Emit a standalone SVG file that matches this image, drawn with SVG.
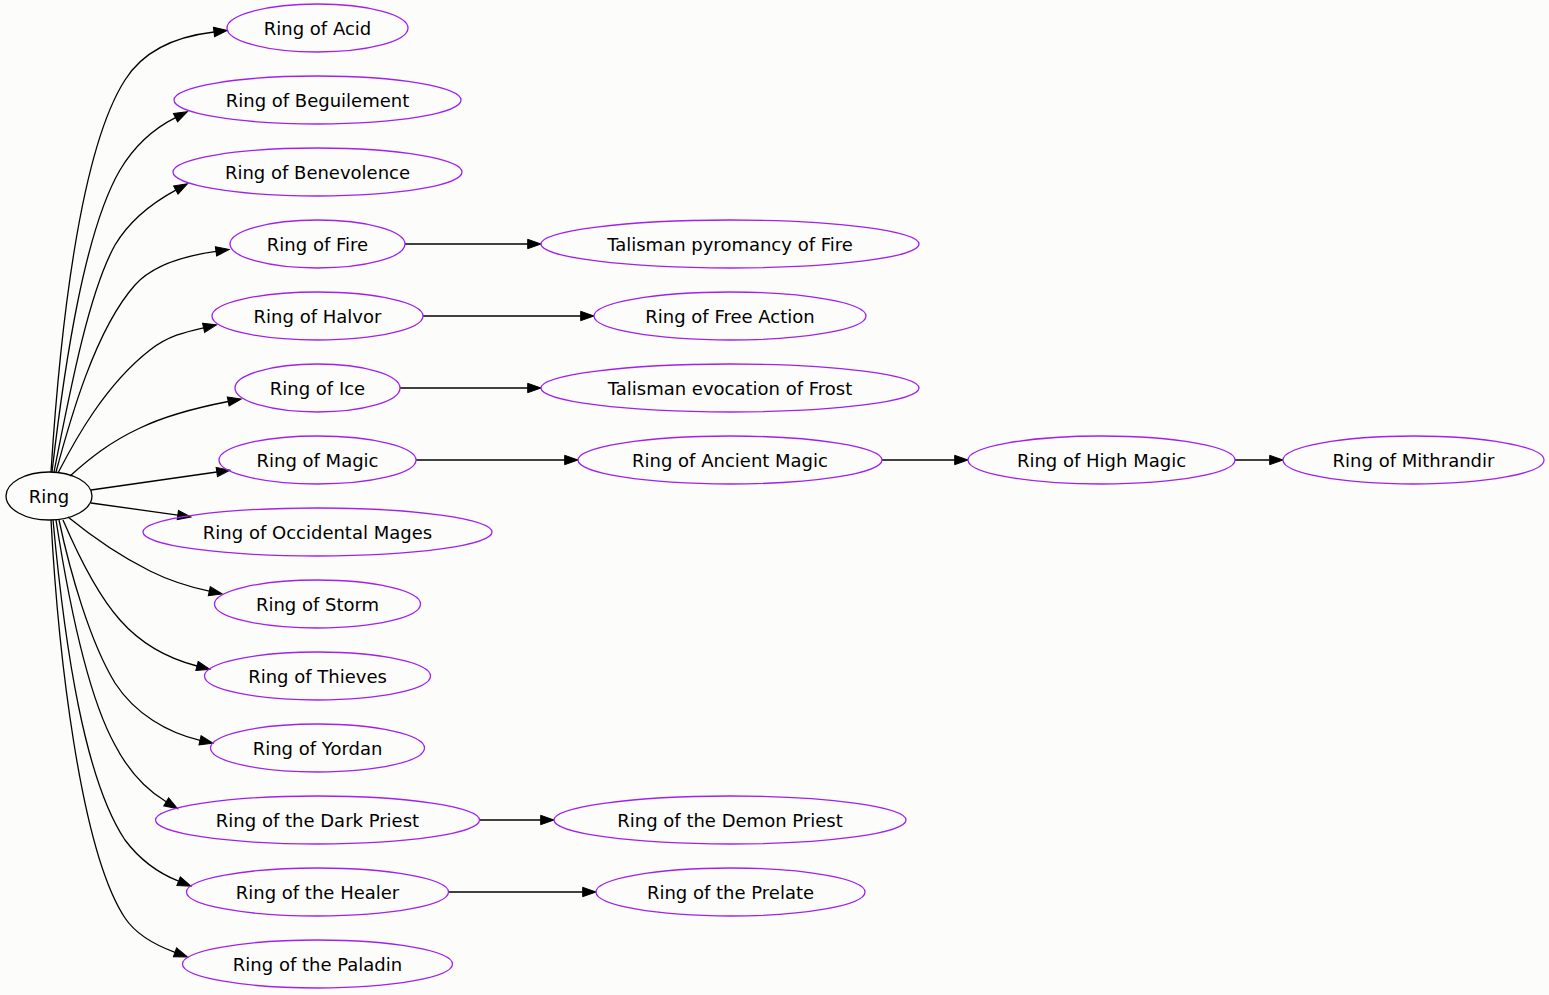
<svg xmlns="http://www.w3.org/2000/svg" width="1549" height="995" viewBox="0 0 1549 995">
<style>
.n ellipse{fill:none;stroke:#a020f0;stroke-width:1.3}
.r ellipse{fill:none;stroke:#000;stroke-width:1.3}
text{font-family:"DejaVu Sans",sans-serif;font-size:18px;fill:#000;text-anchor:middle}
#edges path{fill:none;stroke:#000;stroke-width:1.3;marker-end:url(#ah)}
</style>
<defs>
<marker id="ah" markerUnits="userSpaceOnUse" markerWidth="16" markerHeight="12" refX="0" refY="4.67" orient="auto" overflow="visible">
<path d="M0,0 L13.3,4.67 L0,9.33 z" fill="#000" stroke="#000" stroke-width="1"/>
</marker>
</defs>
<rect width="1549" height="995" fill="#fcfdfb"/>
<g id="edges">
<path d="M51,472 C60,330 80,150 125,80 C145,48 180,36 214,32"/>
<path d="M52,472 C65,360 85,230 120,170 C135,145 155,128 175.5,117.7"/>
<path d="M54,472 C72,380 90,290 115,245 C130,220 152,203 175.8,190.1"/>
<path d="M56,472 C70,420 95,330 135,285 C155,262.5 190,255 216,251.4"/>
<path d="M58,473 C75,440 105,385 150,350 C168,336 185,332 203.6,327.8"/>
<path d="M70,476 C90,458 110,442 140,428 C165,416 200,407 228.2,401.5"/>
<path d="M91,490 L216.8,472"/>
<path d="M91,503 L177.8,515.1"/>
<path d="M68,517 C90,535 120,556 150,571 C170,581 190,587 209.3,591.2"/>
<path d="M63,520 C75,548 95,592 120,620 C142,645 170,659 197,666"/>
<path d="M59,520 C70,572 90,642 115,683 C135,714 168,733 200,740.3"/>
<path d="M56,520 C70,610 90,700 115,745 C128,770 145,789 166.2,801.8"/>
<path d="M53,520 C65,650 85,780 125,840 C140,860 158,873 178.6,881.2"/>
<path d="M51,520 C58,650 80,850 125,918 C135,933 155,945 175,952.3"/>
<path d="M405,244 L527.7,244"/>
<path d="M423,316 L580.7,316"/>
<path d="M400,388 L527.7,388"/>
<path d="M416,460 L564.7,460"/>
<path d="M882,460 L954.7,460"/>
<path d="M1235,460 L1269.7,460"/>
<path d="M479,820 L540.7,820"/>
<path d="M448,892 L582.7,892"/>
</g>
<g id="ring" class="r"><ellipse cx="49" cy="496" rx="43" ry="24"/><text x="49" y="502.5">Ring</text></g>
<g id="acid" class="n"><ellipse cx="317.5" cy="28" rx="90.5" ry="24"/><text x="317.5" y="34.5">Ring of Acid</text></g>
<g id="beguilement" class="n"><ellipse cx="317.5" cy="100" rx="143.5" ry="24"/><text x="317.5" y="106.5">Ring of Beguilement</text></g>
<g id="benevolence" class="n"><ellipse cx="317.5" cy="172" rx="144.5" ry="24"/><text x="317.5" y="178.5">Ring of Benevolence</text></g>
<g id="fire" class="n"><ellipse cx="317.5" cy="244" rx="87.5" ry="24"/><text x="317.5" y="250.5">Ring of Fire</text></g>
<g id="halvor" class="n"><ellipse cx="317.5" cy="316" rx="105.5" ry="24"/><text x="317.5" y="322.5">Ring of Halvor</text></g>
<g id="ice" class="n"><ellipse cx="317.5" cy="388" rx="82.5" ry="24"/><text x="317.5" y="394.5">Ring of Ice</text></g>
<g id="magic" class="n"><ellipse cx="317.5" cy="460" rx="98.5" ry="24"/><text x="317.5" y="466.5">Ring of Magic</text></g>
<g id="occidental" class="n"><ellipse cx="317.5" cy="532" rx="174.5" ry="24"/><text x="317.5" y="538.5">Ring of Occidental Mages</text></g>
<g id="storm" class="n"><ellipse cx="317.5" cy="604" rx="103" ry="24"/><text x="317.5" y="610.5">Ring of Storm</text></g>
<g id="thieves" class="n"><ellipse cx="317.5" cy="676" rx="113" ry="24"/><text x="317.5" y="682.5">Ring of Thieves</text></g>
<g id="yordan" class="n"><ellipse cx="317.5" cy="748" rx="107" ry="24"/><text x="317.5" y="754.5">Ring of Yordan</text></g>
<g id="darkpriest" class="n"><ellipse cx="317.5" cy="820" rx="162" ry="24"/><text x="317.5" y="826.5">Ring of the Dark Priest</text></g>
<g id="healer" class="n"><ellipse cx="317.5" cy="892" rx="131" ry="24"/><text x="317.5" y="898.5">Ring of the Healer</text></g>
<g id="paladin" class="n"><ellipse cx="317.5" cy="964" rx="135" ry="24"/><text x="317.5" y="970.5">Ring of the Paladin</text></g>
<g id="pyromancy" class="n"><ellipse cx="730" cy="244" rx="189" ry="24"/><text x="730" y="250.5">Talisman pyromancy of Fire</text></g>
<g id="freeaction" class="n"><ellipse cx="730" cy="316" rx="136" ry="24"/><text x="730" y="322.5">Ring of Free Action</text></g>
<g id="frost" class="n"><ellipse cx="730" cy="388" rx="189" ry="24"/><text x="730" y="394.5">Talisman evocation of Frost</text></g>
<g id="ancient" class="n"><ellipse cx="730" cy="460" rx="152" ry="24"/><text x="730" y="466.5">Ring of Ancient Magic</text></g>
<g id="demon" class="n"><ellipse cx="730" cy="820" rx="176" ry="24"/><text x="730" y="826.5">Ring of the Demon Priest</text></g>
<g id="prelate" class="n"><ellipse cx="730.5" cy="892" rx="134.5" ry="24"/><text x="730.5" y="898.5">Ring of the Prelate</text></g>
<g id="highmagic" class="n"><ellipse cx="1101.5" cy="460" rx="133.5" ry="24"/><text x="1101.5" y="466.5">Ring of High Magic</text></g>
<g id="mithrandir" class="n"><ellipse cx="1413.5" cy="460" rx="130.5" ry="24"/><text x="1413.5" y="466.5">Ring of Mithrandir</text></g>
</svg>
